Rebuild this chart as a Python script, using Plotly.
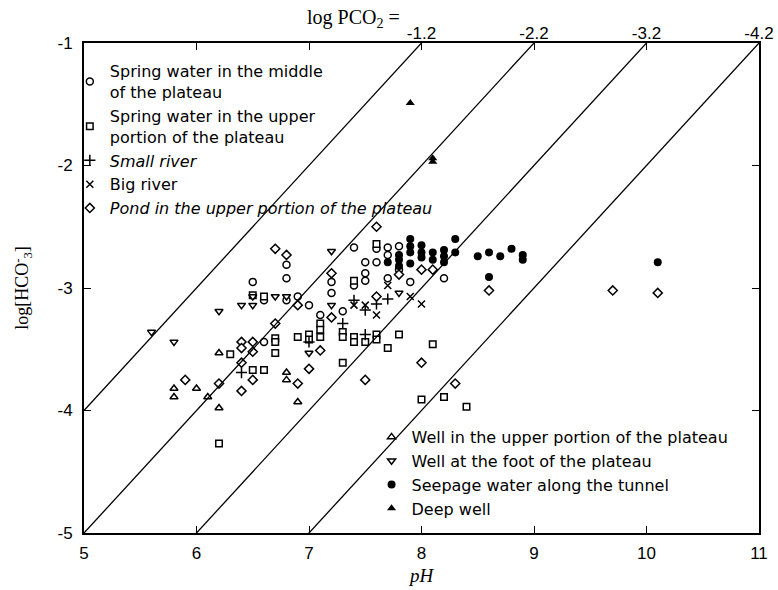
import plotly.graph_objects as go

# ---- Spring water in the middle of the plateau (open circles)
spring_mid_ph = [6.8, 6.8, 6.5, 7.4, 7.7, 7.7, 7.8, 7.5, 7.6, 7.8, 7.9, 8.2, 7.2, 7.2,
                 7.5, 7.5, 7.4, 7.7, 7.0, 7.3, 6.9, 7.1, 6.8, 6.6, 6.6, 7.6]
spring_mid_hco3 = [-2.81, -2.92, -2.95, -2.67, -2.67, -2.73, -2.66, -2.79, -2.79, -2.85,
                   -2.95, -2.92, -2.95, -3.04, -2.88, -2.94, -2.98, -2.92, -3.14, -3.19,
                   -3.07, -3.22, -3.10, -3.10, -3.44, -2.68]

# ---- Spring water in the upper portion of the plateau (open squares)
spring_up_ph = [7.6, 6.6, 6.5, 7.4, 7.1, 7.1, 7.1, 7.0, 7.0, 6.9, 6.7, 6.7, 6.7, 6.3,
                6.5, 6.6, 6.2, 7.3, 7.3, 7.4, 7.4, 7.5, 7.6, 7.6, 7.8, 7.7, 8.1, 7.3,
                8.0, 8.2, 8.4]
spring_up_hco3 = [-2.64, -3.07, -3.06, -2.94, -3.29, -3.34, -3.40, -3.38, -3.42, -3.40,
                  -3.41, -3.44, -3.53, -3.54, -3.67, -3.67, -4.27, -3.36, -3.40, -3.40,
                  -3.44, -3.44, -3.38, -3.42, -3.38, -3.49, -3.46, -3.61, -3.91, -3.89,
                  -3.97]

# ---- Small river (+)
small_river_ph = [6.4, 7.3, 7.4, 7.5, 7.6, 7.7, 7.5, 7.0]
small_river_hco3 = [-3.69, -3.29, -3.10, -3.18, -3.13, -3.09, -3.38, -3.44]

# ---- Big river (x)
big_river_ph = [7.7, 7.4, 7.5, 7.6, 7.9, 8.0]
big_river_hco3 = [-2.98, -3.14, -3.14, -3.22, -3.07, -3.13]

# ---- Pond in the upper portion of the plateau (open diamonds)
pond_ph = [6.7, 6.8, 7.6, 7.2, 7.2, 6.9, 6.7, 6.4, 6.4, 6.5, 6.5, 6.4, 6.5, 6.4, 6.2,
           5.9, 6.9, 7.0, 7.1, 7.8, 8.0, 8.1, 8.0, 7.5, 8.3, 8.6, 9.7, 10.1, 7.6]
pond_hco3 = [-2.68, -2.73, -2.50, -2.88, -3.24, -3.14, -3.29, -3.44, -3.49, -3.44,
             -3.52, -3.61, -3.75, -3.84, -3.78, -3.75, -3.78, -3.66, -3.51, -2.89,
             -2.85, -2.85, -3.61, -3.75, -3.78, -3.02, -3.02, -3.04, -3.07]

# ---- Well in the upper portion of the plateau (open up-triangles)
well_up_ph = [6.2, 5.8, 5.8, 6.0, 6.1, 6.2, 6.8, 6.8, 6.9]
well_up_hco3 = [-3.53, -3.82, -3.89, -3.82, -3.89, -3.98, -3.69, -3.75, -3.93]

# ---- Well at the foot of the plateau (open down-triangles)
well_foot_ph = [5.6, 5.8, 6.2, 6.4, 6.5, 6.5, 6.7, 6.8, 7.2, 7.2, 7.0, 7.8]
well_foot_hco3 = [-3.36, -3.44, -3.19, -3.14, -3.14, -3.07, -3.07, -3.07, -2.70,
                  -3.14, -3.53, -3.04]

# ---- Seepage water along the tunnel (filled circles)
seepage_ph = [7.8, 7.8, 7.8, 7.9, 7.9, 7.9, 7.9, 8.0, 8.0, 8.0, 8.1, 8.1, 8.2, 8.2,
              8.2, 8.3, 8.3, 8.5, 8.6, 8.7, 8.8, 8.9, 8.9, 8.6, 10.1, 7.7]
seepage_hco3 = [-2.73, -2.77, -2.82, -2.60, -2.66, -2.71, -2.80, -2.65, -2.71, -2.75,
                -2.71, -2.77, -2.69, -2.74, -2.79, -2.60, -2.71, -2.74, -2.71, -2.74,
                -2.68, -2.73, -2.77, -2.91, -2.79, -2.79]

# ---- Deep well (filled up-triangles)
deep_well_ph = [7.9, 8.1, 8.1]
deep_well_hco3 = [-1.49, -1.94, -1.97]

# ---- Equilibrium lines: log[HCO3-] = pH + log PCO2 + LOG_K
log_pco2 = [-1.2, -2.2, -3.2, -4.2]
LOG_K = -7.8
ph_range = [5, 11]
hco3_range = [-5, -1]

x_ticks = [5, 6, 7, 8, 9, 10, 11]
y_ticks = [-5, -4, -3, -2, -1]
y_tick_text = ["-5", "-4", "-3", "-2", "-1"]
top_tick_vals = [8, 9, 10, 11]
top_tick_text = ["-1.2", "-2.2", "-3.2", "-4.2"]

SANS = "Liberation Sans, Arial, sans-serif"
KEY_FONT = "DejaVu Sans, Liberation Sans, sans-serif"
SERIF = "Liberation Serif, Times New Roman, serif"

fig = go.Figure()

for p in log_pco2:
    fig.add_trace(go.Scatter(
        x=ph_range, y=[ph_range[0] + p + LOG_K, ph_range[1] + p + LOG_K],
        xaxis="x2", mode="lines", line=dict(color="black", width=1.3),
        showlegend=False, hoverinfo="skip"))


def open_marker(symbol, size=7):
    return dict(symbol=symbol, size=size, color="white",
                line=dict(color="black", width=1.5))


series = [
    (spring_mid_ph, spring_mid_hco3, "Spring water in the middle<br>of the plateau",
     open_marker("circle"), "legend"),
    (spring_up_ph, spring_up_hco3, "Spring water in the upper<br>portion of the plateau",
     open_marker("square", 6.5), "legend"),
    (small_river_ph, small_river_hco3, "<i>Small river</i>",
     dict(symbol="cross-thin", size=8, color="black", line=dict(color="black", width=1.5)),
     "legend"),
    (big_river_ph, big_river_hco3, "Big river",
     dict(symbol="x-thin", size=7, color="black", line=dict(color="black", width=1.5)),
     "legend"),
    (pond_ph, pond_hco3, "<i>Pond in the upper portion of the plateau</i>",
     open_marker("diamond", 7), "legend"),
    (well_up_ph, well_up_hco3, "Well in the upper portion of the plateau",
     open_marker("triangle-up", 7), "legend2"),
    (well_foot_ph, well_foot_hco3, "Well at the foot of the plateau",
     open_marker("triangle-down", 7), "legend2"),
    (seepage_ph, seepage_hco3, "Seepage water along the tunnel",
     dict(symbol="circle", size=8, color="black"), "legend2"),
    (deep_well_ph, deep_well_hco3, "Deep well",
     dict(symbol="triangle-up", size=8, color="black"), "legend2"),
]

for xs, ys, name, marker, leg in series:
    fig.add_trace(go.Scatter(x=xs, y=ys, mode="markers", name=name,
                             marker=marker, legend=leg, cliponaxis=False))

axis_common = dict(showline=True, linecolor="black", linewidth=2, showgrid=False,
                   zeroline=False, ticks="inside", ticklen=7, tickwidth=1.3,
                   tickcolor="black", automargin=False,
                   tickfont=dict(family=SANS, size=17, color="black"))

key_style = dict(xanchor="left", yanchor="top", bgcolor="rgba(0,0,0,0)",
                 font=dict(family=KEY_FONT, size=16, color="black"),
                 itemwidth=30, tracegroupgap=0)

fig.update_layout(
    width=778, height=590,
    margin=dict(l=84, r=19, t=43, b=57, autoexpand=False),
    paper_bgcolor="white", plot_bgcolor="white",
    xaxis=dict(range=ph_range, tickvals=x_ticks, mirror="ticks", ticklabelstandoff=4,
               title=dict(text="<i>pH</i>", font=dict(family=SERIF, size=19, color="black"),
                          standoff=6),
               **axis_common),
    xaxis2=dict(range=ph_range, overlaying="x", side="top", tickvals=top_tick_vals,
                ticktext=top_tick_text, showgrid=False, zeroline=False,
                showline=False, ticks="", automargin=False,
                tickfont=dict(family=SANS, size=17, color="black")),
    yaxis=dict(range=hco3_range, tickvals=y_ticks, ticktext=y_tick_text, mirror="ticks",
               ticklabelstandoff=6,
               title=dict(text="log[HCO<sup>-</sup><sub>3</sub>]",
                          font=dict(family=SERIF, size=18, color="black"), standoff=24),
               **axis_common),
    legend=dict(x=-0.021, y=0.977, **key_style),
    legend2=dict(x=0.426, y=0.2306, **key_style),
    annotations=[dict(text="log PCO<sub>2</sub> =", xref="paper", yref="paper",
                      x=0.327, y=1.051, xanchor="left", yanchor="middle", showarrow=False,
                      font=dict(family=SERIF, size=20, color="black"))],
)

fig.write_html("out.html")
